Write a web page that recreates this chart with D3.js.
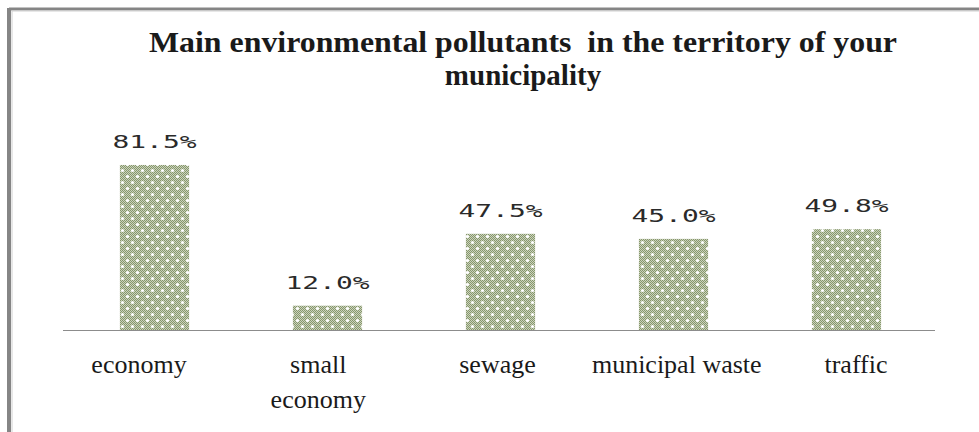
<!DOCTYPE html>
<html>
<head>
<meta charset="utf-8">
<script src="https://cdn.jsdelivr.net/npm/d3@7/dist/d3.min.js"></script>
<style>
  html, body { margin: 0; padding: 0; background: #fff; }
  svg { display: block; }
</style>
</head>
<body>
<svg id="chart" width="979" height="432"></svg>
<script>
// Survey shares (%) of the main pollutant sources
const categories = ["economy", "small economy", "sewage", "municipal waste", "traffic"];
const values = [81.5, 12.0, 47.5, 45.0, 49.8];
const categoryLines = [["economy"], ["small", "economy"], ["sewage"], ["municipal waste"], ["traffic"]];
const titleLines = ["Main environmental pollutants  in the territory of your", "municipality"];

const W = 979, H = 432;
const svg = d3.select("#chart");

// Frame: grey rule along top and left
svg.append("line").attr("x1", 9).attr("x2", W).attr("y1", 9).attr("y2", 9)
  .attr("stroke", "#858585").attr("stroke-width", 3);
svg.append("line").attr("x1", 9).attr("x2", 9).attr("y1", 8).attr("y2", H)
  .attr("stroke", "#858585").attr("stroke-width", 4);
svg.append("line").attr("x1", 12).attr("x2", 12).attr("y1", 11).attr("y2", H)
  .attr("stroke", "#d0d0d0").attr("stroke-width", 1);
svg.append("line").attr("x1", 12).attr("x2", W).attr("y1", 11).attr("y2", 11)
  .attr("stroke", "#d0d0d0").attr("stroke-width", 1);

// Dotted olive fill pattern
const defs = svg.append("defs");
const pat = defs.append("pattern").attr("id", "dots")
  .attr("patternUnits", "userSpaceOnUse").attr("width", 10).attr("height", 12);
const cells = [];
for (let j = 0; j < 12; j++) for (let i = 0; i < 10; i++) cells.push({ i, j });
pat.selectAll("rect").data(cells).join("rect")
  .attr("x", d => d.i).attr("y", d => d.j).attr("width", 1).attr("height", 1)
  .attr("fill", d => (d.i + d.j) % 2 === 0 ? "#86976b" : "#cbd2bd");
pat.selectAll("circle").data([[2.5, 2.5], [7.5, 8.5]]).join("circle")
  .attr("cx", d => d[0]).attr("cy", d => d[1]).attr("r", 1.6).attr("fill", "#ffffff");

// Scales
const x = d3.scaleBand().domain(categories).range([68, 933]).paddingInner(0.6).paddingOuter(0.3);
const xLabel = d3.scalePoint().domain(categories).range([139, 856]);
const y = d3.scaleLinear().domain([0, 100]).range([330, 127.5]);

// Bars
svg.append("g").selectAll("rect").data(categories).join("rect")
  .attr("x", d => x(d)).attr("width", x.bandwidth())
  .attr("y", (d, i) => y(values[i])).attr("height", (d, i) => y(0) - y(values[i]))
  .attr("fill", "url(#dots)");

// Baseline
svg.append("line").attr("x1", 63).attr("x2", 935).attr("y1", y(0) + 0.5).attr("y2", y(0) + 0.5)
  .attr("stroke", "#8c8c8c").attr("stroke-width", 1.2);

// Value labels
svg.append("g").selectAll("text").data(categories).join("text")
  .attr("x", d => x(d) + x.bandwidth() / 2)
  .attr("y", (d, i) => y(values[i]) - 17)
  .attr("text-anchor", "middle")
  .attr("font-family", "DejaVu Sans Mono, monospace")
  .attr("font-size", 18)
  .attr("fill", "#2a2a2a")
  .attr("textLength", 84).attr("lengthAdjust", "spacingAndGlyphs")
  .text((d, i) => values[i].toFixed(1) + "%");

// Category labels
const cat = svg.append("g").selectAll("text").data(categories).join("text")
  .attr("x", d => xLabel(d)).attr("y", 373)
  .attr("text-anchor", "middle")
  .attr("font-family", "Liberation Serif, serif")
  .attr("font-size", 26)
  .attr("fill", "#1a1a1a");
cat.selectAll("tspan").data((d, i) => categoryLines[i]).join("tspan")
  .attr("x", function () { return d3.select(this.parentNode).attr("x"); })
  .attr("dy", (d, i) => i === 0 ? 0 : 35)
  .text(d => d);

// Title
const title = svg.append("g").selectAll("text").data(titleLines).join("text")
  .attr("x", 523).attr("y", (d, i) => 52 + i * 33)
  .attr("text-anchor", "middle")
  .attr("font-family", "Liberation Serif, serif")
  .attr("font-weight", "bold")
  .attr("font-size", 29)
  .attr("fill", "#1a1a1a")
  .style("white-space", "pre")
  .text(d => d);
title.filter((d, i) => i === 0)
  .attr("textLength", 748).attr("lengthAdjust", "spacingAndGlyphs");
</script>
</body>
</html>
